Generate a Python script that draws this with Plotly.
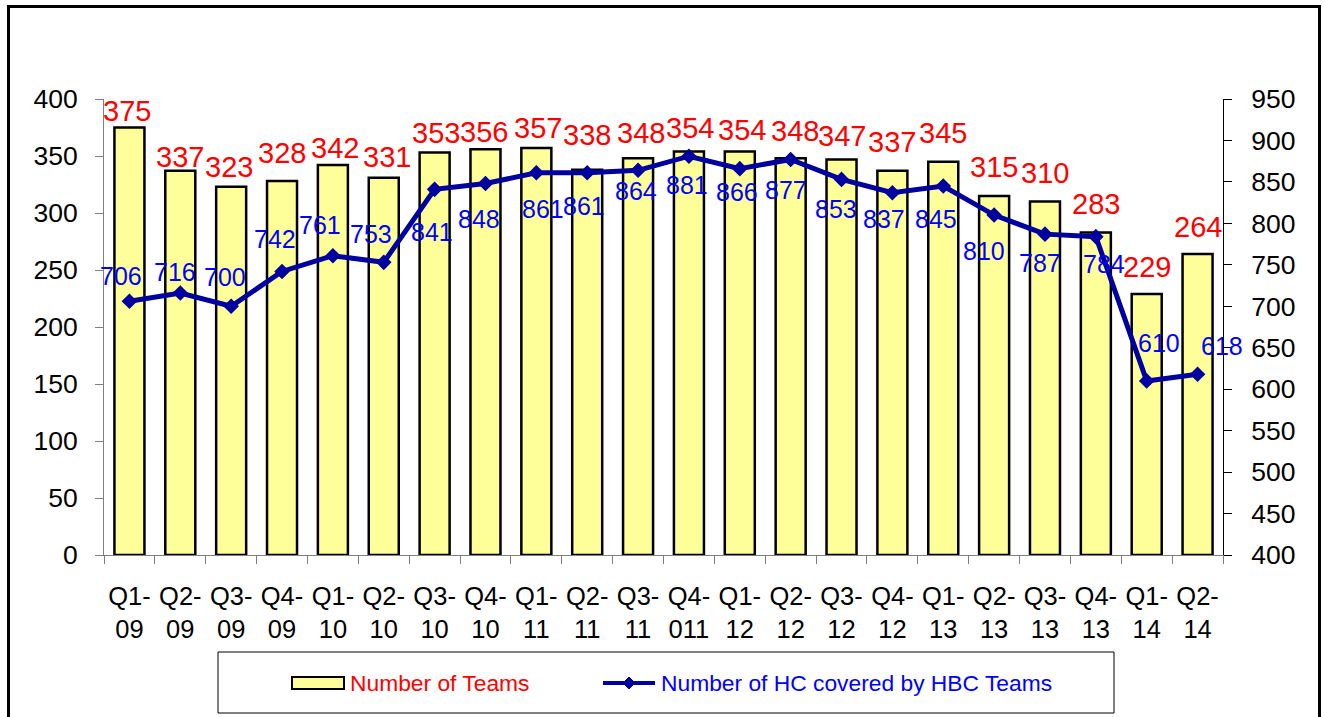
import plotly.graph_objects as go

# data
quarters = ["Q1-09", "Q2-09", "Q3-09", "Q4-09", "Q1-10", "Q2-10", "Q3-10", "Q4-10",
            "Q1-11", "Q2-11", "Q3-11", "Q4-011", "Q1-12", "Q2-12", "Q3-12", "Q4-12",
            "Q1-13", "Q2-13", "Q3-13", "Q4-13", "Q1-14", "Q2-14"]
teams = [375, 337, 323, 328, 342, 331, 353, 356, 357, 338, 348, 354, 354, 348, 347, 337,
         345, 315, 310, 283, 229, 264]
hc_covered = [706, 716, 700, 742, 761, 753, 841, 848, 861, 861, 864, 881, 866, 877, 853,
              837, 845, 810, 787, 784, 610, 618]

# the labels were hand placed in the original, nudges in screen px (dy > 0 = down)
team_lbl_dx = [-2, 0, -2, 0, 2, 3, 1, -1, 2, 0, 3, 1, 2, 4, 0, 0, 0, 0, 0, 0, 0, 0]
team_lbl_dy = [-17, -14, -20, -28, -17, -21, -20, -17, -20, -35, -25, -23, -21, -27, -23,
               -29, -29, -29, -29, -28, -27, -27]
hc_lbl_dx = [-8, -5, -6, -7, -13, -13, -3, -6, 7, -3, -2, -2, -3, -5, -6, -8, -7, -10, -5,
             8, 12, 24]
hc_lbl_dy = [-25, -21, -29, -32, -31, -28, 43, 35, 36, 33, 21, 29, 23, 30, 30, 26, 33, 36,
             29, 27, -38, -28]

FONT = "Liberation Sans, Arial, sans-serif"
BAR_FILL = "#FFFF99"
LINE_COL = "#0000A0"
GREY = "#808080"

W, H = 1324, 717
L, R, T, B = 104, 101, 99, 162


# page pixel -> paper coords
def px(x):
    return (x - L) / (W - L - R)


def py(y):
    return (H - B - y) / (H - T - B)


fig = go.Figure()

fig.add_trace(go.Bar(
    x=quarters, y=teams, name="Number of Teams",
    marker=dict(color=BAR_FILL, line=dict(color="black", width=2.5)),
))
fig.add_trace(go.Scatter(
    x=quarters, y=hc_covered, yaxis="y2", mode="lines+markers",
    name="Number of HC covered by HBC Teams",
    line=dict(color=LINE_COL, width=5),
    marker=dict(symbol="diamond", size=12, color=LINE_COL),
))

annotations = []
for q, v, dx, dy in zip(quarters, teams, team_lbl_dx, team_lbl_dy):
    annotations.append(dict(x=q, y=v, xref="x", yref="y", text=str(v), showarrow=False,
                            xshift=dx, yshift=-dy, font=dict(size=29, color="#FF0000")))
for q, v, dx, dy in zip(quarters, hc_covered, hc_lbl_dx, hc_lbl_dy):
    annotations.append(dict(x=q, y=v, xref="x", yref="y2", text=str(v), showarrow=False,
                            xshift=dx, yshift=-dy, font=dict(size=25, color="#0000FF")))

# legend, drawn by hand to get the wide box and long swatches
annotations += [
    dict(x=px(348), y=py(683), xref="paper", yref="paper", xanchor="left", yanchor="middle",
         text="Number of Teams", showarrow=False, font=dict(size=22.8, color="#FF0000")),
    dict(x=px(659), y=py(683), xref="paper", yref="paper", xanchor="left", yanchor="middle",
         text="Number of HC covered by HBC Teams", showarrow=False,
         font=dict(size=22.8, color="#0000FF")),
]
shapes = [
    dict(type="rect", xref="paper", yref="paper", x0=px(218), x1=px(1114), y0=py(713), y1=py(652),
         line=dict(color="black", width=1)),
    dict(type="rect", xref="paper", yref="paper", x0=px(292), x1=px(344), y0=py(689), y1=py(677),
         fillcolor=BAR_FILL, line=dict(color="black", width=2)),
    dict(type="line", xref="paper", yref="paper", x0=px(603), x1=px(655), y0=py(683), y1=py(683),
         line=dict(color=LINE_COL, width=4)),
    dict(type="path", xref="paper", yref="paper",
         path=f"M {px(629)},{py(677)} L {px(635)},{py(683)} L {px(629)},{py(689)} "
              f"L {px(623)},{py(683)} Z",
         fillcolor=LINE_COL, line=dict(color=LINE_COL, width=1)),
    # outer frame, its bottom edge runs off the page
    dict(type="rect", xref="paper", yref="paper", x0=px(8.5), x1=px(1319.5), y0=py(740), y1=py(6.5),
         line=dict(color="black", width=3)),
]

n = len(quarters)
boundaries = [i - 0.5 for i in range(n + 1)]

fig.update_layout(
    width=W, height=H,
    margin=dict(l=L, r=R, t=T, b=B, pad=0),
    paper_bgcolor="white", plot_bgcolor="white",
    font=dict(family=FONT, color="black"),
    showlegend=False,
    bargap=0.41,
    annotations=annotations,
    shapes=shapes,
    xaxis=dict(type="category", tickmode="array", tickvals=quarters,
               ticktext=[q.replace("-", "-<br>") for q in quarters],
               tickson="boundaries", ticks="outside", ticklen=8, tickcolor=GREY,
               showline=True, linecolor=GREY, linewidth=1, showgrid=False, tickangle=0,
               tickfont=dict(size=25.5, color="black"), ticklabelstandoff=18,
               range=[-0.5, n - 0.5]),
    xaxis2=dict(overlaying="x", anchor="y", range=[-0.5, n - 0.5], tickmode="array",
                tickvals=boundaries, ticks="inside", ticklen=8, tickcolor=GREY,
                showticklabels=False, showline=False, showgrid=False, zeroline=False),
    yaxis=dict(range=[0, 400], dtick=50, ticks="outside", ticklen=8, tickcolor=GREY,
               showline=True, linecolor=GREY, linewidth=1, showgrid=False, zeroline=False,
               tickfont=dict(size=26.5, color="black"), ticklabelstandoff=12),
    yaxis2=dict(overlaying="y", side="right", anchor="x", range=[400, 950], dtick=50,
                ticks="outside", ticklen=8, tickcolor="black", showline=True,
                linecolor="black", linewidth=1, showgrid=False, zeroline=False,
                tickfont=dict(size=26.5, color="black"), ticklabelstandoff=14),
    yaxis3=dict(overlaying="y", side="left", anchor="x", range=[0, 400], dtick=50,
                ticks="inside", ticklen=8, tickcolor=GREY, showticklabels=False,
                showline=False, showgrid=False, zeroline=False),
    yaxis4=dict(overlaying="y", side="right", anchor="x", range=[400, 950], dtick=50,
                ticks="inside", ticklen=8, tickcolor="black", showticklabels=False,
                showline=False, showgrid=False, zeroline=False),
)

# drop the default body margin so the figure sits at the page corner
fig.write_html("out.html", config={"displayModeBar": False},
               post_script="document.body.style.margin = '0';")
